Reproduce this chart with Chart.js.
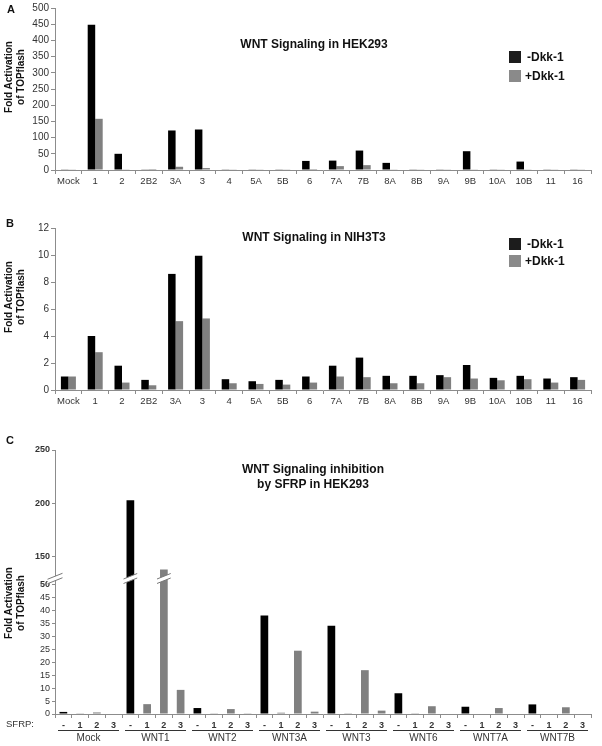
<!DOCTYPE html>
<html>
<head>
<meta charset="utf-8">
<script src="https://cdn.jsdelivr.net/npm/chart.js@4/dist/chart.umd.min.js"></script>
<style>
html,body{margin:0;padding:0;background:#fff;}
#wrap{position:relative;width:602px;height:746px;overflow:hidden;background:#fff;font-family:"Liberation Sans",Arial,sans-serif;color:#111;}
canvas{position:absolute;left:0;}
.c{position:absolute;white-space:nowrap;transform:translate(-50%,-50%);text-align:center;}
.ttl{font-weight:bold;font-size:12px;line-height:15px;}
.pl{font-weight:bold;font-size:11px;}
.yt{position:absolute;font-weight:bold;font-size:10px;line-height:12px;text-align:center;white-space:nowrap;transform:translate(-50%,-50%) rotate(-90deg);}
.lg{position:absolute;font-weight:bold;font-size:12px;line-height:14px;white-space:nowrap;}
.sw{position:absolute;width:12px;height:12px;}
</style>
</head>
<body>
<div id="wrap">
  <canvas id="cA" width="602" height="190" style="top:0px"></canvas>
  <canvas id="cB" width="602" height="220" style="top:190px"></canvas>
  <canvas id="cC" width="602" height="356" style="top:390px"></canvas>

  <div class="c pl" style="left:11px;top:9px">A</div>
  <div class="c pl" style="left:10px;top:223px">B</div>
  <div class="c pl" style="left:10px;top:440px">C</div>

  <div class="c ttl" style="left:314px;top:44px">WNT Signaling in HEK293</div>
  <div class="c ttl" style="left:314px;top:237px">WNT Signaling in NIH3T3</div>
  <div class="c ttl" style="left:313px;top:477px">WNT Signaling inhibition<br>by SFRP in HEK293</div>

  <div class="yt" style="left:15px;top:77px">Fold Activation<br>of TOPflash</div>
  <div class="yt" style="left:15px;top:297px">Fold Activation<br>of TOPflash</div>
  <div class="yt" style="left:15px;top:603px">Fold Activation<br>of TOPflash</div>

  <div class="sw" style="left:509px;top:51px;background:#1c1c1c"></div>
  <div class="lg" style="left:527px;top:50px">-Dkk-1</div>
  <div class="sw" style="left:509px;top:70px;background:#8a8a8a"></div>
  <div class="lg" style="left:525px;top:69px">+Dkk-1</div>

  <div class="sw" style="left:509px;top:238px;background:#1c1c1c"></div>
  <div class="lg" style="left:527px;top:237px">-Dkk-1</div>
  <div class="sw" style="left:509px;top:255px;background:#8a8a8a"></div>
  <div class="lg" style="left:525px;top:254px">+Dkk-1</div>
</div>
<script>
// ---------- data ----------
const wntLabels = ['Mock','1','2','2B2','3A','3','4','5A','5B','6','7A','7B','8A','8B','9A','9B','10A','10B','11','16'];
const hekMinusDkk = [1, 448, 50, 1, 122, 125, 1, 1, 1, 28, 29, 60, 22, 1, 1, 58, 1, 26, 1, 1];
const hekPlusDkk  = [1, 158, 1, 3, 10, 6, 1, 1, 1, 3, 12, 15, 1, 1, 1, 1, 1, 1, 1, 1];
const nihMinusDkk = [1.0, 4.0, 1.8, 0.75, 8.6, 9.95, 0.8, 0.65, 0.75, 1.0, 1.8, 2.4, 1.05, 1.05, 1.1, 1.85, 0.9, 1.05, 0.85, 0.95];
const nihPlusDkk  = [1.0, 2.8, 0.55, 0.35, 5.1, 5.3, 0.5, 0.45, 0.4, 0.55, 1.0, 0.95, 0.5, 0.5, 0.95, 0.85, 0.72, 0.8, 0.55, 0.75];

const sfrpGroups = ['Mock','WNT1','WNT2','WNT3A','WNT3','WNT6','WNT7A','WNT7B'];
const sfrpLabels = ['-','1','2','3'];
const noSfrp = [0.8, 203, 2.3, 38, 34, 8.0, 2.8, 3.7];
const sfrp1  = [0.1, 3.8, 0.1, 0.5, 0.3, 0.3, 0.2, 0.2];
const sfrp2  = [0.6, 138, 1.9, 24.4, 16.9, 3.0, 2.3, 2.6];
const sfrp3  = [0.2, 9.3, 0.1, 0.9, 1.3, 0.2, 0.2, 0.2];

// ---------- style ----------
const BLACK = '#000000', GRAY = '#808080', AXIS = '#8c8c8c', TXT = '#333333';
Chart.defaults.font.family = '"Liberation Sans", Arial, sans-serif';
Chart.defaults.color = TXT;

function xScale(fontSize, h){
  return {
    grid:{display:true, drawOnChartArea:false, tickLength:4, color:AXIS},
    border:{color:AXIS},
    ticks:{color:TXT, font:{size:fontSize}, padding:2, maxRotation:0, autoSkip:false},
    afterFit:s=>{s.height=h;}
  };
}
function yScale(min,max,step){
  return {
    min:min, max:max,
    ticks:{stepSize:step, color:TXT, font:{size:10}, padding:2, autoSkip:false},
    grid:{drawOnChartArea:false, tickLength:4, color:AXIS},
    border:{color:AXIS},
    afterFit:s=>{s.width=55;}
  };
}
function dkkChart(id, minus, plus, ymax, step, padTop){
  return new Chart(document.getElementById(id), {
    type:'bar',
    data:{labels:wntLabels, datasets:[
      {label:'-Dkk-1', data:minus, backgroundColor:BLACK},
      {label:'+Dkk-1', data:plus, backgroundColor:GRAY}
    ]},
    options:{
      responsive:false, animation:false, devicePixelRatio:1,
      layout:{padding:{top:padTop, right:11, left:0, bottom:0}},
      plugins:{legend:{display:false}, tooltip:{enabled:false}},
      datasets:{bar:{categoryPercentage:0.56, barPercentage:1}},
      scales:{ x:xScale(9.5,20), y:yScale(0,ymax,step) }
    }
  });
}
dkkChart('cA', hekMinusDkk, hekPlusDkk, 500, 50, 7);
dkkChart('cB', nihMinusDkk, nihPlusDkk, 12, 2, 38);

// ---------- panel C (broken axis) ----------
const LOW_MAX = 51.66, HIGH_MIN = 128.2;
const cLabels = [], cValues = [], cColors = [];
const sfrpSeries = [noSfrp, sfrp1, sfrp2, sfrp3];
sfrpGroups.forEach((g,i)=>{
  sfrpSeries.forEach((arr,j)=>{
    cLabels.push(sfrpLabels[j]);
    cValues.push(arr[i]);
    cColors.push(j===0 ? BLACK : GRAY);
  });
});
const lowData = cValues.map(v=>Math.min(v, LOW_MAX));
const highData = cValues.map(v=>v>LOW_MAX ? v : null);

function slash(ctx, cx, cy, hw, col){
  const s = 0.4, g = 4.5;
  ctx.save();
  ctx.beginPath();
  ctx.moveTo(cx-hw, cy+hw*s+g/2);
  ctx.lineTo(cx+hw, cy-hw*s+g/2);
  ctx.lineTo(cx+hw, cy-hw*s-g/2);
  ctx.lineTo(cx-hw, cy+hw*s-g/2);
  ctx.closePath();
  ctx.fillStyle = '#fff';
  ctx.fill();
  ctx.strokeStyle = col; ctx.lineWidth = 1;
  ctx.beginPath();
  ctx.moveTo(cx-hw, cy+hw*s+g/2); ctx.lineTo(cx+hw, cy-hw*s+g/2);
  ctx.moveTo(cx-hw, cy+hw*s-g/2); ctx.lineTo(cx+hw, cy-hw*s-g/2);
  ctx.stroke();
  ctx.restore();
}

const breakPlugin = {
  id:'brk',
  afterDatasetsDraw(chart){
    const ctx = chart.ctx, ys = chart.scales.y;
    const yb = ys.top - 1.5;
    const meta = chart.getDatasetMeta(0);
    cValues.forEach((v,i)=>{
      if (v > LOW_MAX){
        const el = meta.data[i];
        slash(ctx, el.x, yb, el.width/2+3, '#777');
      }
    });
    slash(ctx, ys.right, yb, 7.5, '#777');
  }
};
const groupPlugin = {
  id:'grp',
  afterDraw(chart){
    const ctx = chart.ctx, xs = chart.scales.x;
    const half = (xs.getPixelForValue(1) - xs.getPixelForValue(0))/2;
    ctx.save();
    ctx.fillStyle = TXT;
    ctx.font = '9.5px "Liberation Sans", Arial, sans-serif';
    ctx.textAlign = 'left'; ctx.textBaseline = 'middle';
    ctx.fillText('SFRP:', 6, xs.top + 10.5);
    ctx.font = '10px "Liberation Sans", Arial, sans-serif';
    ctx.textAlign = 'center';
    ctx.strokeStyle = '#333'; ctx.lineWidth = 1;
    sfrpGroups.forEach((g,i)=>{
      const l = xs.getPixelForValue(i*4) - half + 3;
      const r = xs.getPixelForValue(i*4+3) + half - 3;
      const ly = Math.round(xs.top + 16) + 0.5;
      ctx.beginPath(); ctx.moveTo(l, ly); ctx.lineTo(r, ly); ctx.stroke();
      ctx.fillText(g, (l+r)/2, xs.top + 24.5);
    });
    ctx.restore();
  }
};

new Chart(document.getElementById('cC'), {
  type:'bar',
  data:{labels:cLabels, datasets:[
    {data:lowData, backgroundColor:cColors, yAxisID:'y', grouped:false},
    {data:highData, backgroundColor:cColors, yAxisID:'y2', grouped:false}
  ]},
  options:{
    responsive:false, animation:false, devicePixelRatio:1,
    layout:{padding:{top:60, right:11, left:0, bottom:0}},
    plugins:{legend:{display:false}, tooltip:{enabled:false}},
    datasets:{bar:{categoryPercentage:1, barPercentage:0.46}},
    scales:{
      x:{
        grid:{display:true, drawOnChartArea:false, tickLength:4, color:AXIS},
        border:{color:AXIS},
        ticks:{color:TXT, font:{size:9, weight:'bold'}, padding:2, maxRotation:0, autoSkip:false},
        afterFit:s=>{s.height=32;}
      },
      y:{
        type:'linear', position:'left', stack:'c', stackWeight:134, offset:false,
        min:0, max:LOW_MAX,
        ticks:{stepSize:5, includeBounds:false, autoSkip:false, color:TXT, padding:2,
               font:c=>({size:9, weight: (c.tick && c.tick.value===50) ? 'bold' : 'normal'})},
        grid:{drawOnChartArea:false, tickLength:3, color:AXIS},
        border:{color:AXIS},
        afterFit:s=>{s.width=55;}
      },
      y2:{
        type:'linear', position:'left', stack:'c', stackWeight:130, offset:false,
        min:HIGH_MIN, max:250,
        ticks:{stepSize:50, includeBounds:false, autoSkip:false, color:TXT, padding:2, font:{size:9, weight:'bold'}},
        grid:{drawOnChartArea:false, tickLength:3, color:AXIS},
        border:{color:AXIS},
        afterFit:s=>{s.width=55;}
      }
    }
  },
  plugins:[breakPlugin, groupPlugin]
});
</script>
</body>
</html>
